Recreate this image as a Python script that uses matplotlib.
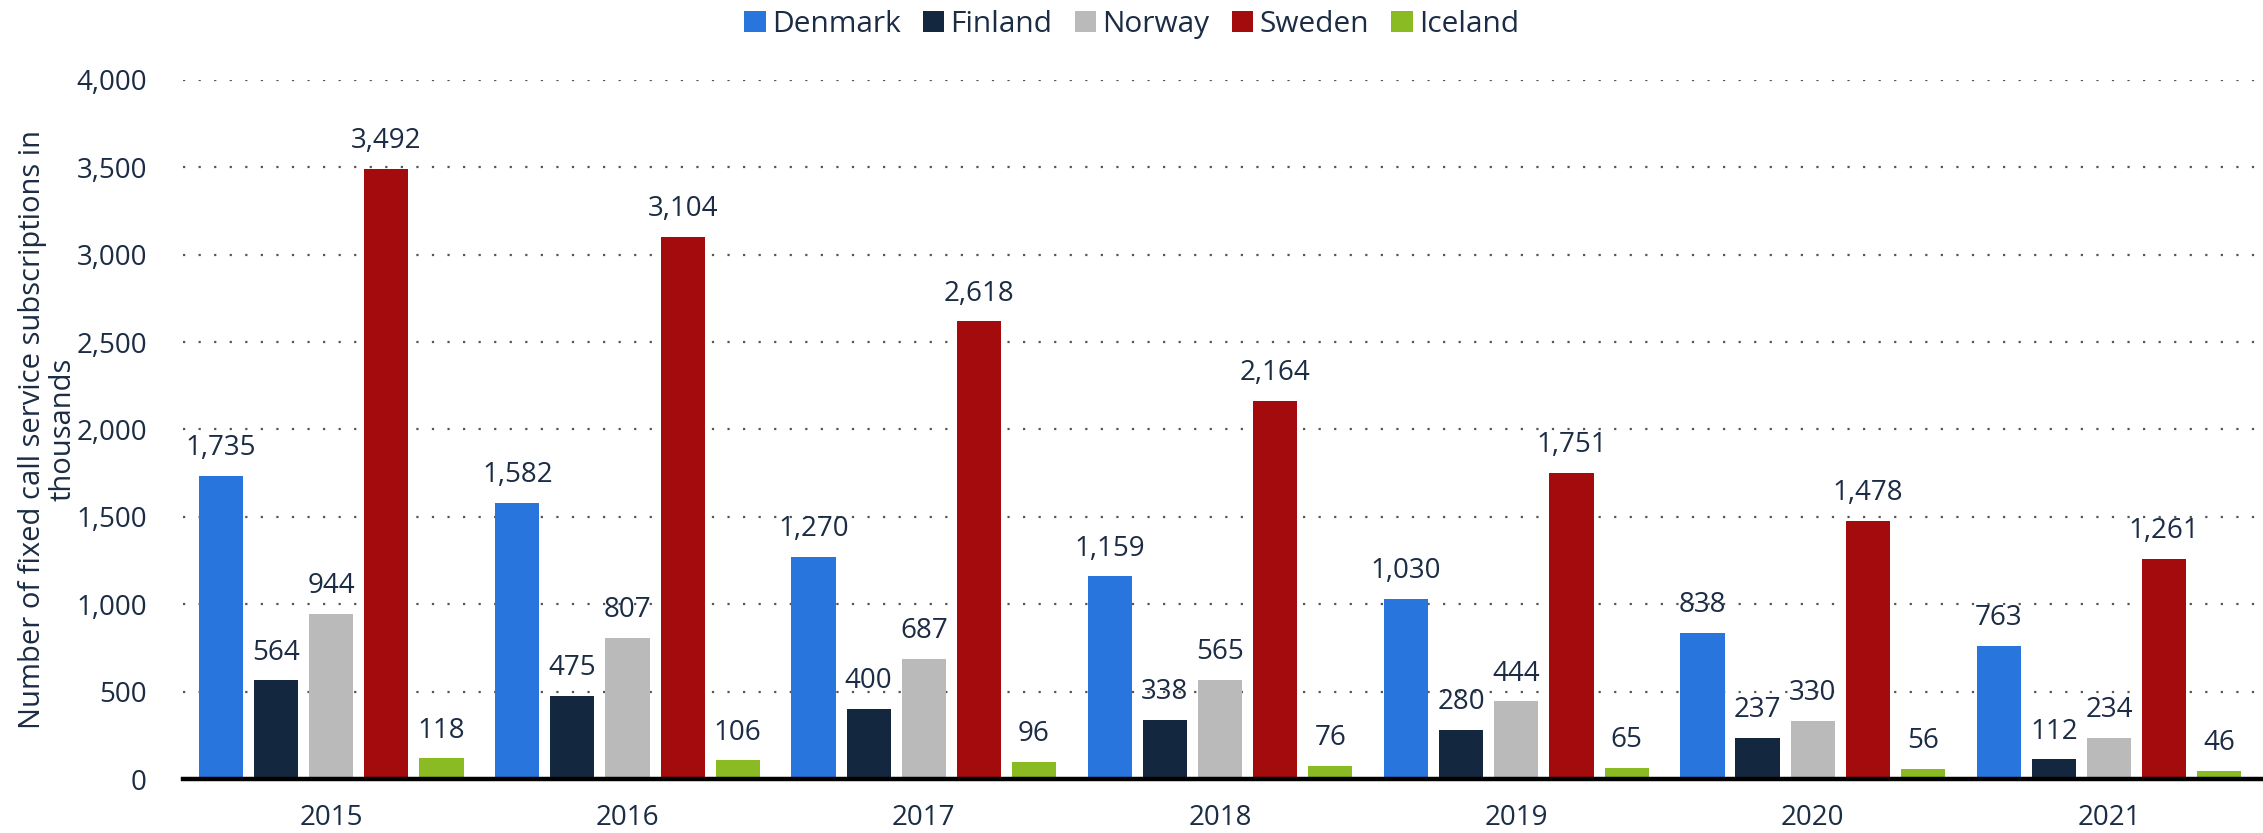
import numpy as np
import matplotlib.pyplot as plt

plt.rcParams['font.family'] = ['Open Sans', 'DejaVu Sans']

# data
years = ['2015', '2016', '2017', '2018', '2019', '2020', '2021']
countries = ['Denmark', 'Finland', 'Norway', 'Sweden', 'Iceland']
denmark = [1735, 1582, 1270, 1159, 1030, 838, 763]
finland = [564, 475, 400, 338, 280, 237, 112]
norway = [944, 807, 687, 565, 444, 330, 234]
sweden = [3492, 3104, 2618, 2164, 1751, 1478, 1261]
iceland = [118, 106, 96, 76, 65, 56, 46]
colors = ['#2876DD', '#13283F', '#BABABA', '#A30B0D', '#8ABB23']

txt = '#1b2c44'

fig = plt.figure(figsize=(22.63, 8.33), dpi=100)
ax = fig.add_axes([0.0809, 0.0648, 0.9191, 0.8392])

x = np.arange(len(years))
step = 0.186
width = 0.149
series = [denmark, finland, norway, sweden, iceland]
for i, (name, vals, c) in enumerate(zip(countries, series, colors)):
    pos = x + (i - 2) * step
    ax.bar(pos, vals, width, color=c, label=name, zorder=3)
    for px, v in zip(pos, vals):
        ax.annotate(f'{v:,}', (px, v), xytext=(0, 10), textcoords='offset points',
                    ha='center', va='bottom', fontsize=20, color=txt)

ax.set_xlim(-0.5, 6.52)
ax.set_ylim(0, 4000)
ax.set_yticks(range(0, 4001, 500))
ax.set_yticklabels([f'{t:,}' for t in range(0, 4001, 500)])
ax.set_xticks(x)
ax.set_xticklabels(years)
ax.tick_params(axis='both', length=0, labelsize=20, labelcolor=txt)
ax.tick_params(axis='y', pad=26)
ax.tick_params(axis='x', pad=18)

for yv in range(500, 4001, 500):
    ax.axhline(yv, color='#555555', linestyle=(0, (1, 6)), linewidth=1.6, zorder=1)

for s in ['top', 'right', 'left']:
    ax.spines[s].set_visible(False)
ax.spines['bottom'].set_linewidth(3.2)
ax.spines['bottom'].set_color('black')
ax.spines['bottom'].set_zorder(4)

ax.set_ylabel('Number of fixed call service subscriptions in\nthousands',
              fontsize=21, color=txt, linespacing=1.05)
ax.yaxis.set_label_coords(-0.051, 0.5)

fig.legend(loc='center', bbox_to_anchor=(0.5, 0.971), ncol=5, frameon=False,
           fontsize=21.5, handlelength=0.72, handleheight=0.72, handletextpad=0.2,
           columnspacing=0.75, labelcolor=txt)

fig.savefig('out.png', dpi=100)
